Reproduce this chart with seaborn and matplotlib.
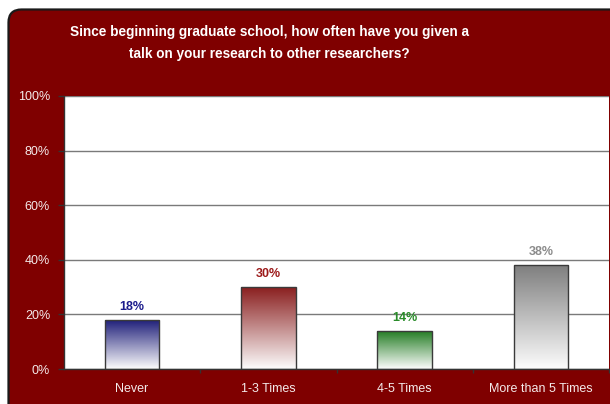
import numpy as np
import pandas as pd
import matplotlib
matplotlib.use("Agg")
import matplotlib.pyplot as plt
import seaborn as sns
from matplotlib.patches import FancyBboxPatch
from matplotlib.colors import to_rgb

# Survey results
categories = ["Never", "1-3 Times", "4-5 Times", "More than 5 Times"]
shares = [18, 30, 14, 38]
bar_colors = ["#1c1c78", "#8a1f1f", "#1f7a1f", "#7f7f7f"]
label_colors = ["#1c1c8c", "#9c1a1a", "#2a8c2a", "#8c8c8c"]
y_ticks = [0, 20, 40, 60, 80, 100]
title = ("Since beginning graduate school, how often have you given a\n"
         "talk on your research to other researchers?")

sns.set_theme(style="white")
plt.rcParams["font.family"] = ["Liberation Sans", "DejaVu Sans"]

W, H = 610, 404
fig = plt.figure(figsize=(W / 100, H / 100), dpi=100)
fig.patch.set_facecolor("white")

# Background panel with rounded corners, drawn in pixel units
bg = fig.add_axes([0, 0, 1, 1])
bg.set_xlim(0, W)
bg.set_ylim(0, H)
bg.axis("off")
panel = FancyBboxPatch((8.5, -30), 650, 395 + 30 - 0.5,
                       boxstyle="round,pad=0,rounding_size=13",
                       facecolor="#7f0000", edgecolor="#1a1a1a", linewidth=1.6)
bg.add_patch(panel)
bg.text(269, H - 43, title, ha="center", va="center", color="white",
        fontsize=9.8, fontweight="bold", linespacing=1.75)

# Plot area
ax = fig.add_axes([64 / W, 35 / H, 545 / W, 273 / H])
df = pd.DataFrame({"category": categories, "share": shares})
sns.barplot(data=df, x="category", y="share", ax=ax, width=0.4,
            color="white", edgecolor="#3a3a3a", linewidth=1.0, zorder=3)

ax.set_facecolor("white")
ax.set_ylim(0, 100)
ax.set_xlim(-0.5, len(categories) - 0.5)
ax.set_yticks(y_ticks)
ax.set_yticklabels([f"{v}%" for v in y_ticks])
ax.yaxis.grid(True, color="#7a7a7a", linewidth=1.0, zorder=0)
ax.set_axisbelow(True)
ax.set_xlabel("")
ax.set_ylabel("")

# Gradient fills: series colour at the top fading to white at the base
n = 256
for patch, col in zip(ax.patches, bar_colors):
    x0, y0 = patch.get_x(), patch.get_y()
    w, h = patch.get_width(), patch.get_height()
    c = np.array(to_rgb(col))
    t = np.linspace(0, 1, n)[:, None]
    grad = (1 - t) * c + t * np.array([0.99, 0.99, 0.99])
    img = ax.imshow(grad[:, None, :], extent=[x0, x0 + w, y0, y0 + h],
                    origin="upper", aspect="auto", zorder=2,
                    interpolation="bilinear")
    img.set_clip_path(patch)
    patch.set_facecolor("none")

# Value labels above bars
for i, (v, lc) in enumerate(zip(shares, label_colors)):
    ax.annotate(f"{v}%", (i, v), xytext=(0, 5), textcoords="offset points",
                ha="center", va="bottom", color=lc, fontsize=9,
                fontweight="bold", zorder=5)

for side in ["top", "right"]:
    ax.spines[side].set_visible(False)
ax.spines["left"].set_color("#333333")
ax.spines["left"].set_linewidth(1.0)
ax.spines["bottom"].set_color("#333333")
ax.spines["bottom"].set_linewidth(1.0)

ax.tick_params(axis="y", colors="#333333", length=4, width=1, direction="out",
               pad=6, labelsize=9, labelcolor="#f4eaea", left=True)
ax.tick_params(axis="x", which="major", length=0, pad=10, labelsize=9,
               labelcolor="#f4eaea")
ax.set_xticks([0.5, 1.5, 2.5, 3.5], minor=True)
ax.tick_params(axis="x", which="minor", length=3, width=1, colors="#333333",
               direction="out", bottom=True)

fig.savefig("out.png", dpi=100)
